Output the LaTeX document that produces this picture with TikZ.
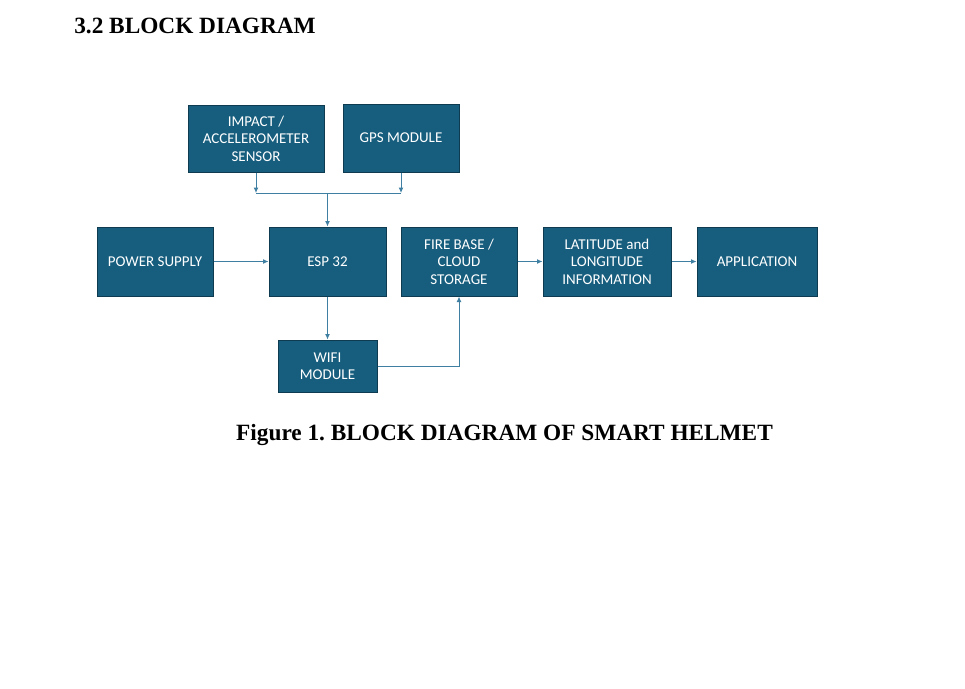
\documentclass[tikz,border=0pt]{standalone}
\usepackage{fontspec}
\usepackage{tikz}
\usetikzlibrary{arrows.meta}
\setmainfont{Liberation Serif}
\newfontfamily\caixafont{Carlito}
\definecolor{azulbloco}{HTML}{175E7E}
\definecolor{azulborda}{HTML}{0E3B50}
\definecolor{azullinha}{HTML}{3F7FA2}
\tikzset{
  bloco/.style={fill=azulbloco, draw=azulborda, line width=1pt, text=white,
    align=center, inner sep=2pt, font=\caixafont\fontsize{15}{17.5}\selectfont},
  ligacao/.style={draw=azullinha, line width=1pt},
  seta/.style={ligacao, -{Latex[length=5.5pt,width=5pt]}},
  titulo/.style={font=\bfseries\fontsize{23.3}{26}\selectfont, anchor=base}
}
\begin{document}
\begin{tikzpicture}[x=1pt, y=-1pt]
  \fill[white] (0,0) rectangle (965,688);
  \useasboundingbox (0,0) rectangle (965,688);
  \node[titulo] (titulo) at (195,33) {3.2 BLOCK DIAGRAM};
  % blocos
  \node[bloco, minimum width=136pt, minimum height=67pt] (impacto) at (256,138.5) {IMPACT /\\ACCELEROMETER\\SENSOR};
  \node[bloco, minimum width=116pt, minimum height=68pt] (gps) at (401,138) {GPS MODULE};
  \node[bloco, minimum width=116pt, minimum height=69pt] (fonte) at (155,261.5) {POWER SUPPLY};
  \node[bloco, minimum width=117pt, minimum height=69pt] (esp) at (327.5,261.5) {ESP 32};
  \node[bloco, minimum width=116pt, minimum height=69pt] (firebase) at (459,261.5) {FIRE BASE /\\CLOUD\\STORAGE};
  \node[bloco, minimum width=128pt, minimum height=69pt] (latlong) at (607,261.5) {LATITUDE and\\LONGITUDE\\INFORMATION};
  \node[bloco, minimum width=120pt, minimum height=69pt] (app) at (757,261.5) {APPLICATION};
  \node[bloco, minimum width=99pt, minimum height=52pt] (wifi) at (327.5,366) {WIFI\\MODULE};
  % ligacoes
  \coordinate (juncao) at (327.5,193);
  \draw[seta] (impacto) -- (impacto |- juncao);
  \draw[seta] (gps) -- (gps |- juncao);
  \draw[ligacao] (impacto |- juncao) -- (gps |- juncao);
  \draw[seta] (juncao) -- (esp);
  \draw[seta] (fonte) -- (esp);
  \draw[seta] (esp) -- (wifi);
  \draw[seta] (wifi.east) -| (firebase.south);
  \draw[seta] (firebase) -- (latlong);
  \draw[seta] (latlong) -- (app);
  \node[titulo] (legenda) at (504.5,440) {Figure 1.\ BLOCK DIAGRAM OF SMART HELMET};
\end{tikzpicture}
\end{document}
